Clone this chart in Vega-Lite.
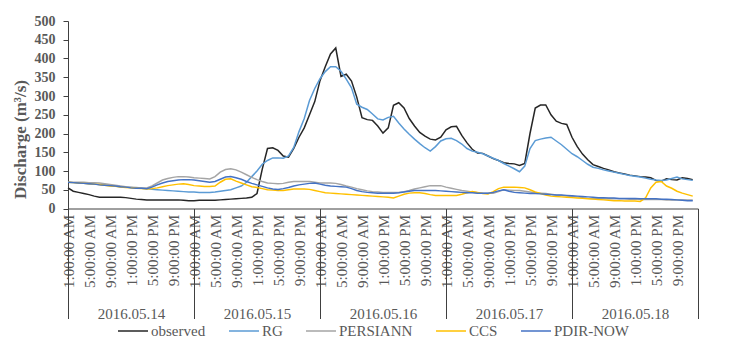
{
  "$schema": "https://vega.github.io/schema/vega-lite/v6.json",
  "width": 630,
  "height": 187.5,
  "autosize": {"type": "none"},
  "padding": {"left": 68, "top": 21, "right": 31, "bottom": 139.5},
  "background": "white",
  "config": {"view": {"stroke": null}, "font": "Liberation Serif"},
  "datasets": {
    "days": [
      {"h": 0, "day": "2016.05.14"},
      {"h": 24, "day": "2016.05.15"},
      {"h": 48, "day": "2016.05.16"},
      {"h": 72, "day": "2016.05.17"},
      {"h": 96, "day": "2016.05.18"},
      {"h": 120, "day": ""}
    ],
    "flow": [
      {"h":0,"observed":55,"RG":70,"PERSIANN":70,"CCS":70,"PDIR-NOW":70},
      {"h":1,"observed":46,"RG":69,"PERSIANN":70,"CCS":69,"PDIR-NOW":69},
      {"h":2,"observed":43,"RG":68,"PERSIANN":70,"CCS":68,"PDIR-NOW":68},
      {"h":3,"observed":40,"RG":67,"PERSIANN":70,"CCS":67,"PDIR-NOW":67},
      {"h":4,"observed":37,"RG":66,"PERSIANN":69,"CCS":66,"PDIR-NOW":66},
      {"h":5,"observed":33,"RG":65,"PERSIANN":69,"CCS":65,"PDIR-NOW":65},
      {"h":6,"observed":30,"RG":64,"PERSIANN":68,"CCS":64,"PDIR-NOW":63},
      {"h":7,"observed":30,"RG":62,"PERSIANN":66,"CCS":62,"PDIR-NOW":62},
      {"h":8,"observed":30,"RG":61,"PERSIANN":64,"CCS":60,"PDIR-NOW":61},
      {"h":9,"observed":30,"RG":60,"PERSIANN":62,"CCS":59,"PDIR-NOW":60},
      {"h":10,"observed":30,"RG":58,"PERSIANN":60,"CCS":57,"PDIR-NOW":58},
      {"h":11,"observed":29,"RG":57,"PERSIANN":58,"CCS":56,"PDIR-NOW":57},
      {"h":12,"observed":27,"RG":56,"PERSIANN":57,"CCS":55,"PDIR-NOW":55},
      {"h":13,"observed":25,"RG":55,"PERSIANN":56,"CCS":54,"PDIR-NOW":54},
      {"h":14,"observed":24,"RG":54,"PERSIANN":55,"CCS":53,"PDIR-NOW":54},
      {"h":15,"observed":23,"RG":53,"PERSIANN":55,"CCS":52,"PDIR-NOW":53},
      {"h":16,"observed":23,"RG":51,"PERSIANN":60,"CCS":53,"PDIR-NOW":57},
      {"h":17,"observed":23,"RG":50,"PERSIANN":68,"CCS":55,"PDIR-NOW":63},
      {"h":18,"observed":23,"RG":49,"PERSIANN":76,"CCS":58,"PDIR-NOW":68},
      {"h":19,"observed":23,"RG":48,"PERSIANN":80,"CCS":61,"PDIR-NOW":72},
      {"h":20,"observed":23,"RG":47,"PERSIANN":83,"CCS":63,"PDIR-NOW":74},
      {"h":21,"observed":23,"RG":46,"PERSIANN":85,"CCS":65,"PDIR-NOW":76},
      {"h":22,"observed":22,"RG":45,"PERSIANN":85,"CCS":66,"PDIR-NOW":77},
      {"h":23,"observed":21,"RG":44,"PERSIANN":84,"CCS":64,"PDIR-NOW":77},
      {"h":24,"observed":21,"RG":44,"PERSIANN":82,"CCS":61,"PDIR-NOW":76},
      {"h":25,"observed":22,"RG":43,"PERSIANN":81,"CCS":60,"PDIR-NOW":74},
      {"h":26,"observed":22,"RG":43,"PERSIANN":80,"CCS":59,"PDIR-NOW":72},
      {"h":27,"observed":22,"RG":43,"PERSIANN":79,"CCS":59,"PDIR-NOW":70},
      {"h":28,"observed":22,"RG":44,"PERSIANN":85,"CCS":60,"PDIR-NOW":72},
      {"h":29,"observed":23,"RG":46,"PERSIANN":97,"CCS":70,"PDIR-NOW":78},
      {"h":30,"observed":24,"RG":48,"PERSIANN":104,"CCS":78,"PDIR-NOW":84},
      {"h":31,"observed":25,"RG":50,"PERSIANN":106,"CCS":79,"PDIR-NOW":85},
      {"h":32,"observed":26,"RG":55,"PERSIANN":103,"CCS":73,"PDIR-NOW":82},
      {"h":33,"observed":27,"RG":60,"PERSIANN":97,"CCS":68,"PDIR-NOW":78},
      {"h":34,"observed":28,"RG":70,"PERSIANN":90,"CCS":63,"PDIR-NOW":72},
      {"h":35,"observed":30,"RG":85,"PERSIANN":83,"CCS":58,"PDIR-NOW":67},
      {"h":36,"observed":40,"RG":100,"PERSIANN":77,"CCS":56,"PDIR-NOW":63},
      {"h":37,"observed":105,"RG":118,"PERSIANN":72,"CCS":53,"PDIR-NOW":59},
      {"h":38,"observed":160,"RG":128,"PERSIANN":68,"CCS":50,"PDIR-NOW":55},
      {"h":39,"observed":162,"RG":135,"PERSIANN":67,"CCS":49,"PDIR-NOW":52},
      {"h":40,"observed":155,"RG":135,"PERSIANN":66,"CCS":48,"PDIR-NOW":51},
      {"h":41,"observed":140,"RG":134,"PERSIANN":67,"CCS":48,"PDIR-NOW":53},
      {"h":42,"observed":137,"RG":140,"PERSIANN":70,"CCS":50,"PDIR-NOW":56},
      {"h":43,"observed":160,"RG":163,"PERSIANN":72,"CCS":52,"PDIR-NOW":60},
      {"h":44,"observed":190,"RG":205,"PERSIANN":72,"CCS":52,"PDIR-NOW":63},
      {"h":45,"observed":215,"RG":240,"PERSIANN":72,"CCS":52,"PDIR-NOW":65},
      {"h":46,"observed":250,"RG":288,"PERSIANN":72,"CCS":51,"PDIR-NOW":67},
      {"h":47,"observed":285,"RG":320,"PERSIANN":70,"CCS":48,"PDIR-NOW":68},
      {"h":48,"observed":341,"RG":346,"PERSIANN":68,"CCS":45,"PDIR-NOW":65},
      {"h":49,"observed":378,"RG":365,"PERSIANN":68,"CCS":42,"PDIR-NOW":62},
      {"h":50,"observed":412,"RG":378,"PERSIANN":68,"CCS":41,"PDIR-NOW":60},
      {"h":51,"observed":428,"RG":378,"PERSIANN":67,"CCS":40,"PDIR-NOW":59},
      {"h":52,"observed":352,"RG":366,"PERSIANN":64,"CCS":39,"PDIR-NOW":58},
      {"h":53,"observed":358,"RG":345,"PERSIANN":60,"CCS":38,"PDIR-NOW":57},
      {"h":54,"observed":340,"RG":322,"PERSIANN":57,"CCS":37,"PDIR-NOW":53},
      {"h":55,"observed":297,"RG":278,"PERSIANN":53,"CCS":36,"PDIR-NOW":48},
      {"h":56,"observed":242,"RG":270,"PERSIANN":50,"CCS":35,"PDIR-NOW":45},
      {"h":57,"observed":237,"RG":264,"PERSIANN":47,"CCS":34,"PDIR-NOW":43},
      {"h":58,"observed":235,"RG":252,"PERSIANN":45,"CCS":33,"PDIR-NOW":42},
      {"h":59,"observed":220,"RG":239,"PERSIANN":44,"CCS":32,"PDIR-NOW":41},
      {"h":60,"observed":201,"RG":236,"PERSIANN":43,"CCS":31,"PDIR-NOW":41},
      {"h":61,"observed":215,"RG":243,"PERSIANN":43,"CCS":30,"PDIR-NOW":41},
      {"h":62,"observed":275,"RG":246,"PERSIANN":43,"CCS":28,"PDIR-NOW":41},
      {"h":63,"observed":282,"RG":228,"PERSIANN":43,"CCS":33,"PDIR-NOW":42},
      {"h":64,"observed":268,"RG":212,"PERSIANN":45,"CCS":38,"PDIR-NOW":44},
      {"h":65,"observed":240,"RG":198,"PERSIANN":48,"CCS":41,"PDIR-NOW":46},
      {"h":66,"observed":220,"RG":185,"PERSIANN":52,"CCS":42,"PDIR-NOW":48},
      {"h":67,"observed":203,"RG":173,"PERSIANN":55,"CCS":42,"PDIR-NOW":48},
      {"h":68,"observed":193,"RG":162,"PERSIANN":58,"CCS":40,"PDIR-NOW":48},
      {"h":69,"observed":185,"RG":153,"PERSIANN":61,"CCS":37,"PDIR-NOW":48},
      {"h":70,"observed":183,"RG":165,"PERSIANN":61,"CCS":35,"PDIR-NOW":48},
      {"h":71,"observed":190,"RG":180,"PERSIANN":61,"CCS":35,"PDIR-NOW":47},
      {"h":72,"observed":210,"RG":186,"PERSIANN":57,"CCS":35,"PDIR-NOW":46},
      {"h":73,"observed":218,"RG":187,"PERSIANN":54,"CCS":35,"PDIR-NOW":45},
      {"h":74,"observed":219,"RG":181,"PERSIANN":51,"CCS":35,"PDIR-NOW":44},
      {"h":75,"observed":195,"RG":172,"PERSIANN":48,"CCS":38,"PDIR-NOW":43},
      {"h":76,"observed":175,"RG":160,"PERSIANN":46,"CCS":42,"PDIR-NOW":42},
      {"h":77,"observed":158,"RG":153,"PERSIANN":44,"CCS":45,"PDIR-NOW":42},
      {"h":78,"observed":148,"RG":150,"PERSIANN":42,"CCS":43,"PDIR-NOW":41},
      {"h":79,"observed":147,"RG":146,"PERSIANN":41,"CCS":40,"PDIR-NOW":41},
      {"h":80,"observed":140,"RG":140,"PERSIANN":41,"CCS":39,"PDIR-NOW":41},
      {"h":81,"observed":133,"RG":134,"PERSIANN":41,"CCS":45,"PDIR-NOW":43},
      {"h":82,"observed":128,"RG":128,"PERSIANN":45,"CCS":53,"PDIR-NOW":47},
      {"h":83,"observed":122,"RG":120,"PERSIANN":50,"CCS":57,"PDIR-NOW":50},
      {"h":84,"observed":120,"RG":113,"PERSIANN":49,"CCS":57,"PDIR-NOW":46},
      {"h":85,"observed":119,"RG":106,"PERSIANN":48,"CCS":57,"PDIR-NOW":43},
      {"h":86,"observed":115,"RG":98,"PERSIANN":48,"CCS":56,"PDIR-NOW":42},
      {"h":87,"observed":120,"RG":113,"PERSIANN":46,"CCS":55,"PDIR-NOW":41},
      {"h":88,"observed":200,"RG":160,"PERSIANN":44,"CCS":50,"PDIR-NOW":40},
      {"h":89,"observed":268,"RG":181,"PERSIANN":42,"CCS":44,"PDIR-NOW":40},
      {"h":90,"observed":276,"RG":185,"PERSIANN":41,"CCS":40,"PDIR-NOW":39},
      {"h":91,"observed":276,"RG":188,"PERSIANN":40,"CCS":36,"PDIR-NOW":38},
      {"h":92,"observed":250,"RG":190,"PERSIANN":38,"CCS":33,"PDIR-NOW":37},
      {"h":93,"observed":233,"RG":180,"PERSIANN":36,"CCS":32,"PDIR-NOW":36},
      {"h":94,"observed":227,"RG":170,"PERSIANN":35,"CCS":31,"PDIR-NOW":36},
      {"h":95,"observed":224,"RG":158,"PERSIANN":33,"CCS":30,"PDIR-NOW":35},
      {"h":96,"observed":190,"RG":146,"PERSIANN":32,"CCS":29,"PDIR-NOW":34},
      {"h":97,"observed":165,"RG":138,"PERSIANN":31,"CCS":28,"PDIR-NOW":33},
      {"h":98,"observed":145,"RG":128,"PERSIANN":29,"CCS":27,"PDIR-NOW":32},
      {"h":99,"observed":130,"RG":118,"PERSIANN":27,"CCS":26,"PDIR-NOW":31},
      {"h":100,"observed":117,"RG":110,"PERSIANN":26,"CCS":25,"PDIR-NOW":30},
      {"h":101,"observed":112,"RG":107,"PERSIANN":26,"CCS":24,"PDIR-NOW":29},
      {"h":102,"observed":107,"RG":103,"PERSIANN":26,"CCS":23,"PDIR-NOW":29},
      {"h":103,"observed":103,"RG":100,"PERSIANN":26,"CCS":22,"PDIR-NOW":28},
      {"h":104,"observed":98,"RG":97,"PERSIANN":26,"CCS":21,"PDIR-NOW":28},
      {"h":105,"observed":95,"RG":94,"PERSIANN":26,"CCS":21,"PDIR-NOW":27},
      {"h":106,"observed":92,"RG":91,"PERSIANN":26,"CCS":20,"PDIR-NOW":27},
      {"h":107,"observed":89,"RG":88,"PERSIANN":25,"CCS":20,"PDIR-NOW":27},
      {"h":108,"observed":87,"RG":86,"PERSIANN":25,"CCS":20,"PDIR-NOW":27},
      {"h":109,"observed":85,"RG":84,"PERSIANN":24,"CCS":19,"PDIR-NOW":26},
      {"h":110,"observed":84,"RG":81,"PERSIANN":24,"CCS":28,"PDIR-NOW":26},
      {"h":111,"observed":82,"RG":78,"PERSIANN":24,"CCS":55,"PDIR-NOW":26},
      {"h":112,"observed":75,"RG":76,"PERSIANN":24,"CCS":70,"PDIR-NOW":26},
      {"h":113,"observed":73,"RG":75,"PERSIANN":24,"CCS":72,"PDIR-NOW":25},
      {"h":114,"observed":79,"RG":76,"PERSIANN":23,"CCS":60,"PDIR-NOW":25},
      {"h":115,"observed":77,"RG":80,"PERSIANN":23,"CCS":54,"PDIR-NOW":24},
      {"h":116,"observed":76,"RG":84,"PERSIANN":23,"CCS":46,"PDIR-NOW":23},
      {"h":117,"observed":82,"RG":79,"PERSIANN":23,"CCS":41,"PDIR-NOW":22},
      {"h":118,"observed":80,"RG":77,"PERSIANN":23,"CCS":37,"PDIR-NOW":21},
      {"h":119,"observed":77,"RG":75,"PERSIANN":23,"CCS":33,"PDIR-NOW":21}
    ]
  },
  "layer": [
    {
      "data": {"name": "flow"},
      "transform": [{"fold": ["observed", "RG", "PERSIANN", "CCS", "PDIR-NOW"], "as": ["series", "discharge"]}],
      "mark": {"type": "line", "strokeWidth": 1.5},
      "encoding": {
        "x": {
          "field": "h", "type": "quantitative",
          "scale": {"domain": [0, 120], "nice": false, "zero": false},
          "axis": {
            "orient": "bottom",
            "values": [0,4,8,12,16,20,24,28,32,36,40,44,48,52,56,60,64,68,72,76,80,84,88,92,96,100,104,108,112,116],
            "labelExpr": "['1:00:00 AM','5:00:00 AM','9:00:00 AM','1:00:00 PM','5:00:00 PM','9:00:00 PM'][(datum.value % 24) / 4]",
            "labelAngle": 270, "labelFont": "Liberation Serif", "labelFontSize": 15, "labelColor": "#595959",
            "labelPadding": 6, "labelOverlap": false, "labelFlush": false, "labelBound": false,
            "ticks": false, "tickSize": 0, "domain": true, "domainColor": "#404040", "domainWidth": 1,
            "grid": false, "title": null, "offset": 0
          }
        },
        "y": {
          "field": "discharge", "type": "quantitative",
          "scale": {"domain": [0, 500], "nice": false},
          "axis": {
            "values": [0,50,100,150,200,250,300,350,400,450,500],
            "grid": false, "title": "Discharge (m³/s)",
            "titleFont": "Liberation Serif", "titleFontSize": 17, "titleFontWeight": "bold", "titleColor": "#595959",
            "titlePadding": 5, "titleY": 118,
            "labelFont": "Liberation Serif", "labelFontSize": 14, "labelFontWeight": "bold", "labelColor": "#595959",
            "tickSize": 5, "tickColor": "#404040", "domainColor": "#404040", "labelPadding": 8
          }
        },
        "color": {
          "field": "series", "type": "nominal",
          "scale": {"domain": ["observed", "RG", "PERSIANN", "CCS", "PDIR-NOW"], "range": ["#262626", "#5B9BD5", "#A5A5A5", "#FFC000", "#4472C4"]},
          "legend": {
            "orient": "none", "legendX": 49, "legendY": 294, "direction": "horizontal", "title": null,
            "symbolType": "stroke", "symbolSize": 900, "symbolStrokeWidth": 1.5,
            "labelFont": "Liberation Serif", "labelFontSize": 15, "labelColor": "#595959", "labelOffset": 2,
            "columnPadding": 20, "padding": 0
          }
        }
      }
    },
    {
      "data": {"name": "days"},
      "mark": {"type": "rule", "opacity": 0},
      "encoding": {
        "x": {
          "field": "h", "type": "quantitative",
          "axis": {
            "orient": "bottom",
            "values": [0, 24, 48, 72, 96, 120], "labels": false, "ticks": true, "tickSize": 110,
            "tickColor": "#404040", "tickWidth": 1, "domain": false, "grid": false, "title": null, "offset": 0
          }
        }
      }
    },
    {
      "data": {"name": "days"},
      "mark": {"type": "rule", "opacity": 0},
      "encoding": {
        "x": {
          "field": "h", "type": "quantitative",
          "axis": {
            "orient": "bottom",
            "values": [12, 36, 60, 84, 108],
            "labelExpr": "['2016.05.14','2016.05.15','2016.05.16','2016.05.17','2016.05.18'][floor(datum.value / 24)]",
            "labelFont": "Liberation Serif", "labelFontSize": 15, "labelColor": "#595959", "labelBaseline": "top",
            "labelPadding": 98, "labelAngle": 0, "ticks": false, "tickSize": 0, "domain": false, "grid": false,
            "title": null, "offset": 0, "labelOverlap": false, "labelFlush": false
          }
        }
      }
    }
  ],
  "resolve": {"axis": {"x": "independent"}}
}
